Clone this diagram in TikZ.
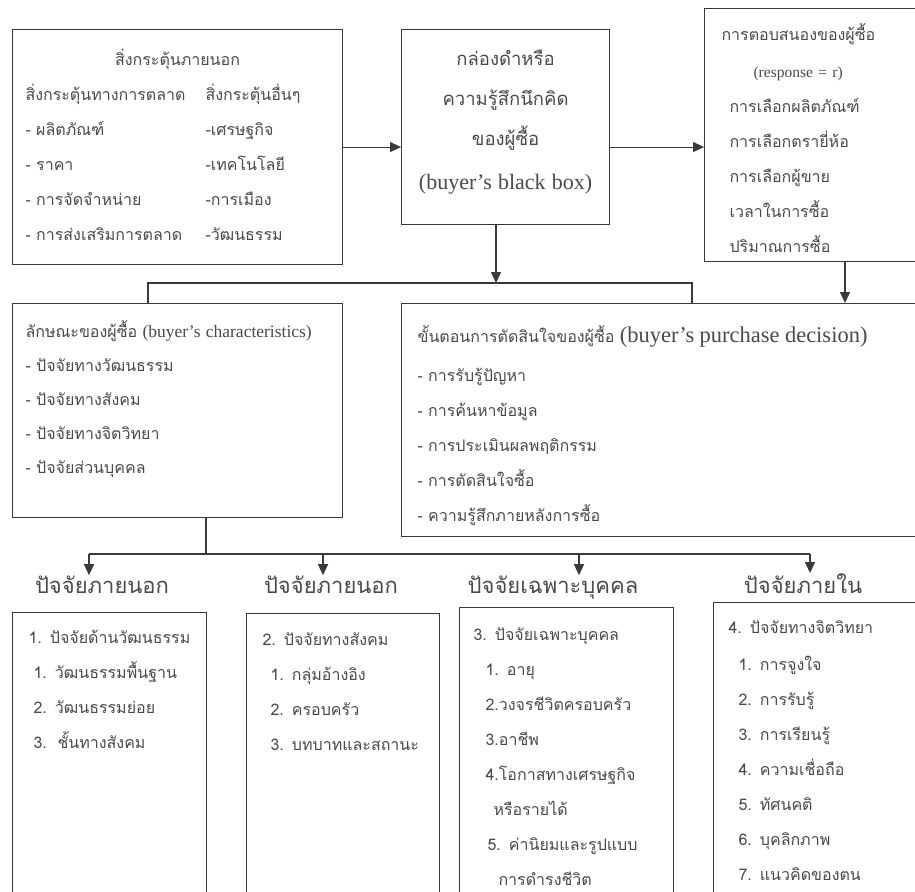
\documentclass[tikz,border=0pt]{standalone}
\usepackage{fontspec}
\setmainfont{Loma}[Script=Thai]
\newfontfamily\engfont{Liberation Serif}
\usepackage{tikz}
\usetikzlibrary{arrows.meta, positioning, calc}
\definecolor{linegray}{HTML}{3A3A3A}
\definecolor{textgray}{HTML}{4A4A4A}

\begin{document}
\begin{tikzpicture}[
  x=1pt, y=-1pt,
  box/.style={
    draw=linegray, line width=1.1pt, anchor=north west,
    inner ysep=0pt, inner xsep=14pt, align=left,
    text=textgray, font=\fontsize{16}{35}\selectfont
  },
  head/.style={anchor=base, inner sep=0pt, text=textgray,
    font=\fontsize{22}{26}\selectfont},
  link/.style={draw=linegray, line width=1.1pt},
  arr/.style={link, -{Triangle[length=11pt, width=10pt]}}
]
  \useasboundingbox (0,0) rectangle (915,891);
  \clip (0,0) rectangle (915,891);
  \fill[white] (0,0) rectangle (915,891);

  % top row
  \node[box, inner xsep=13pt, text width=304pt, text height=36pt, text depth=199pt]
    (stim) at (12,29) {\makebox[\linewidth]{สิ่งกระตุ้นภายนอก}\\
      \makebox[180pt][l]{สิ่งกระตุ้นทางการตลาด}สิ่งกระตุ้นอื่นๆ\\
      \makebox[180pt][l]{- ผลิตภัณฑ์}-เศรษฐกิจ\\
      \makebox[180pt][l]{- ราคา}-เทคโนโลยี\\
      \makebox[180pt][l]{- การจัดจำหน่าย}-การเมือง\\
      \makebox[180pt][l]{- การส่งเสริมการตลาด}-วัฒนธรรม};
  \node[box, inner xsep=8pt, text width=192pt, align=center,
    font=\fontsize{18.5}{40}\selectfont, text height=36pt, text depth=159pt]
    (bbox) at (401,29) {กล่องดำหรือ\\ ความรู้สึกนึกคิด\\ ของผู้ซื้อ\\[4pt]
      {\engfont\fontsize{22}{40}\selectfont (buyer’s black box)}};
  \node[box, inner xsep=25pt, text width=180pt, text height=32pt, text depth=221pt]
    (resp) at (704,8) {\hspace*{-8pt}การตอบสนองของผู้ซื้อ\\[2pt]
      \hspace*{24pt}{\engfont\fontsize{15.5}{35}\selectfont (response = r)}\\
      การเลือกผลิตภัณฑ์\\ การเลือกตรายี่ห้อ\\ การเลือกผู้ขาย\\
      เวลาในการซื้อ\\ ปริมาณการซื้อ};

  % middle row
  \node[box, inner xsep=13pt, text width=304pt, font=\fontsize{16}{34}\selectfont,
    text height=34pt, text depth=180pt]
    (chars) at (12,303) {ลักษณะของผู้ซื้อ
      {\engfont\fontsize{17.5}{34}\selectfont (buyer’s characteristics)}\\
      - ปัจจัยทางวัฒนธรรม\\ - ปัจจัยทางสังคม\\ - ปัจจัยทางจิตวิทยา\\
      - ปัจจัยส่วนบุคคล};
  \node[box, inner xsep=16pt, text width=500pt, text height=39pt, text depth=194pt]
    (decide) at (401,303) {ขั้นตอนการตัดสินใจของผู้ซื้อ
      {\engfont\fontsize{22.5}{35}\selectfont (buyer’s purchase decision)}\\[4pt]
      - การรับรู้ปัญหา\\ - การค้นหาข้อมูล\\ - การประเมินผลพฤติกรรม\\
      - การตัดสินใจซื้อ\\ - ความรู้สึกภายหลังการซื้อ};

  % headings
  \node[head] (hcult) at (102,593) {ปัจจัยภายนอก};
  \node[head] (hsoc) at (331,593) {ปัจจัยภายนอก};
  \node[head] (hpers) at (553,593) {ปัจจัยเฉพาะบุคคล};
  \node[head] (hpsych) at (803,593) {ปัจจัยภายใน};

  % bottom row
  \node[box, inner xsep=16pt, text width=162pt, text height=31pt, text depth=300pt]
    (cult) at (12,612) {1. ปัจจัยด้านวัฒนธรรม\\ \hspace*{5pt}1. วัฒนธรรมพื้นฐาน\\
      \hspace*{5pt}2. วัฒนธรรมย่อย\\ \hspace*{5pt}3.\ \ ชั้นทางสังคม};
  \node[box, inner xsep=16pt, text width=161pt, text height=32pt, text depth=300pt]
    (soc) at (246,613) {2. ปัจจัยทางสังคม\\ \hspace*{8pt}1. กลุ่มอ้างอิง\\
      \hspace*{8pt}2. ครอบครัว\\ \hspace*{8pt}3. บทบาทและสถานะ};
  \node[box, inner xsep=14pt, text width=186pt, text height=33pt, text depth=300pt]
    (pers) at (459,607) {3. ปัจจัยเฉพาะบุคคล\\ \hspace*{12pt}1. อายุ\\
      \hspace*{12pt}2.วงจรชีวิตครอบครัว\\ \hspace*{12pt}3.อาชีพ\\
      \hspace*{12pt}4.โอกาสทางเศรษฐกิจ\\ \hspace*{20pt}หรือรายได้\\
      \hspace*{14pt}5. ค่านิยมและรูปแบบ\\ \hspace*{25pt}การดำรงชีวิต};
  \node[box, inner xsep=15pt, text width=200pt, text height=31pt, text depth=300pt]
    (psych) at (713,602) {4. ปัจจัยทางจิตวิทยา\\[2pt] \hspace*{10pt}1. การจูงใจ\\
      \hspace*{10pt}2. การรับรู้\\ \hspace*{10pt}3. การเรียนรู้\\
      \hspace*{10pt}4. ความเชื่อถือ\\ \hspace*{10pt}5. ทัศนคติ\\
      \hspace*{10pt}6. บุคลิกภาพ\\ \hspace*{10pt}7. แนวคิดของตน};

  % connectors
  \coordinate (split) at (496,283);
  \coordinate (tl) at (148,283);
  \coordinate (tr) at (692,283);
  \coordinate (rdrop) at (845,283);
  \coordinate (fork) at (206,554);
  \coordinate (a1) at (89,554);
  \coordinate (a2) at (323,554);
  \coordinate (a3) at (579,554);
  \coordinate (a4) at (810,554);

  \draw[arr] (stim.east) -- (stim.east -| bbox.west);
  \draw[arr] (stim.east -| bbox.east) -- (stim.east -| resp.west);
  \draw[arr] (bbox.south -| split) -- (split);
  \draw[link] (chars.north -| tl) -- (tl) -- (tr) -- (decide.north -| tr);
  \draw[arr] (resp.south -| rdrop) -- (decide.north -| rdrop);
  \draw[link] (chars.south -| fork) -- (fork);
  \draw[link] (a1) -- (a4);
  \foreach \c/\h in {a1/hcult, a2/hsoc, a3/hpers, a4/hpsych}
    \draw[arr] (\c) -- (\h.north -| \c);
\end{tikzpicture}
\end{document}
